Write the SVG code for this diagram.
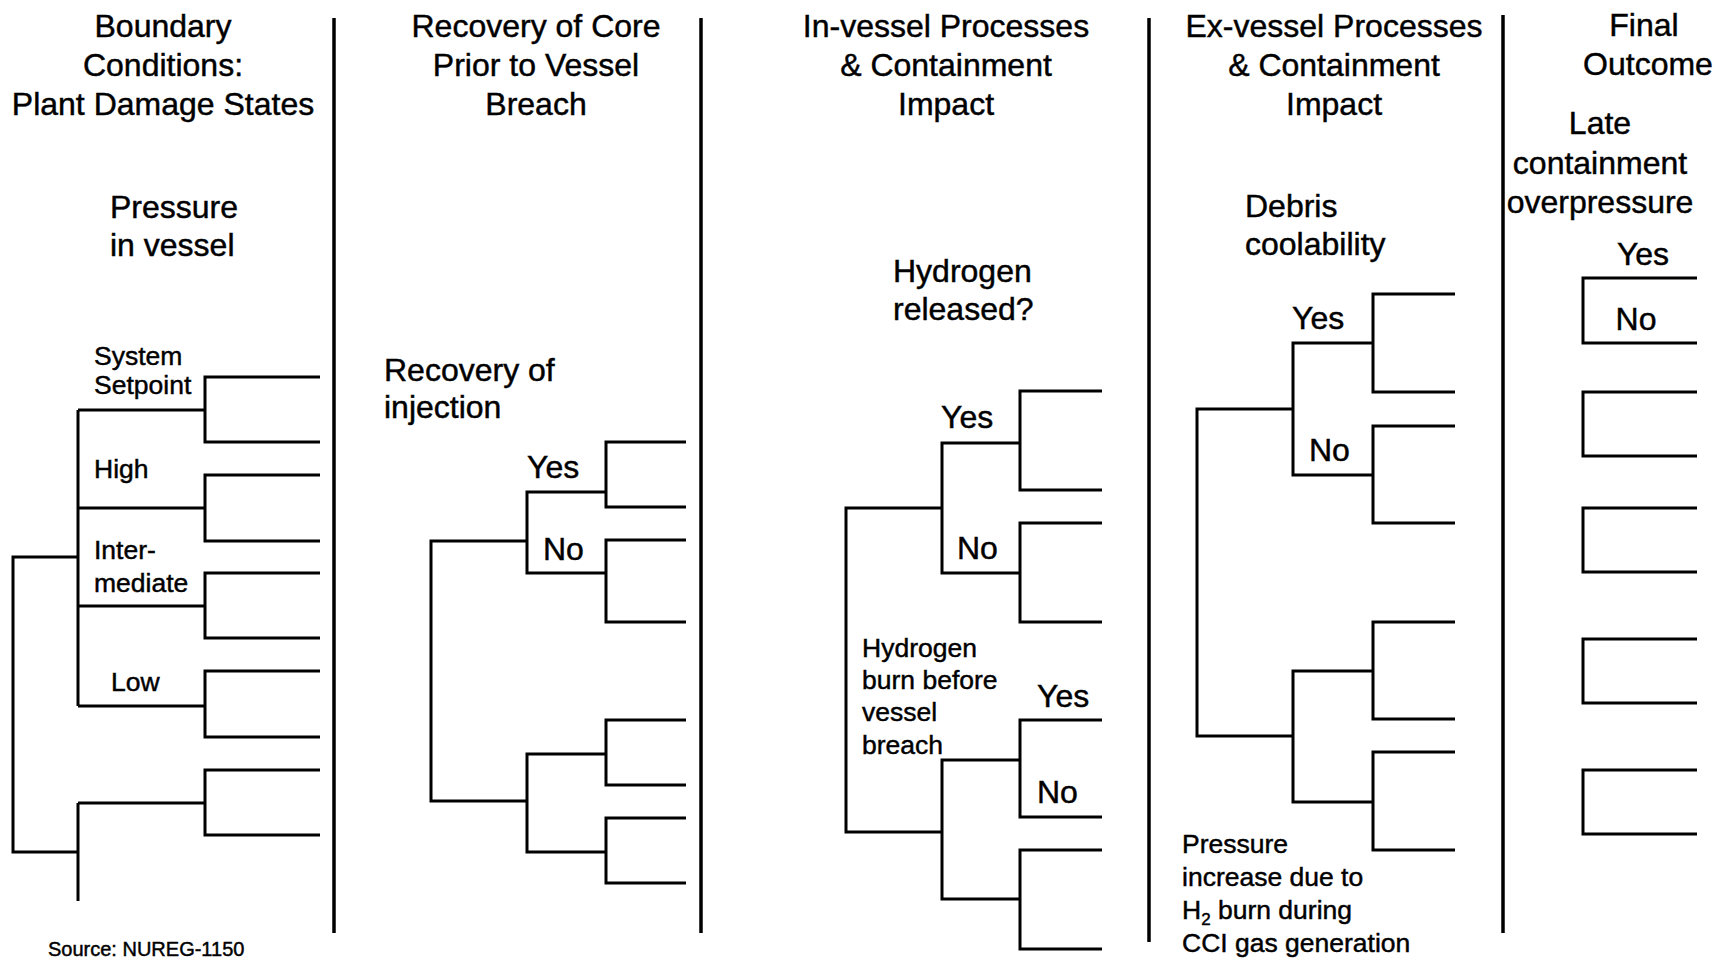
<svg xmlns="http://www.w3.org/2000/svg" width="1733" height="958" viewBox="0 0 1733 958">
<style>
text{font-family:"Liberation Sans",Arial,Helvetica,sans-serif;fill:#000;stroke:#000;stroke-width:0.45}
.h{font-size:32px;text-anchor:middle}
.l{font-size:32px}
.s{font-size:26.5px}
.src{font-size:20px}
.ln{fill:none;stroke:#000;stroke-width:3;stroke-linejoin:miter;stroke-linecap:butt}
.dv{fill:none;stroke:#000;stroke-width:3.5}
</style>
<rect width="1733" height="958" fill="#fff"/>

<g id="dividers">
<line class="dv" x1="334" y1="18" x2="334" y2="933"/>
<line class="dv" x1="701" y1="18" x2="701" y2="933"/>
<line class="dv" x1="1149" y1="18" x2="1149" y2="942"/>
<line class="dv" x1="1503" y1="15" x2="1503" y2="933"/>
</g>

<g id="headers">
<g id="h1"><text class="h" x="163" y="37">Boundary</text><text class="h" x="163" y="76">Conditions:</text><text class="h" x="163" y="115">Plant Damage States</text></g>
<g id="h2"><text class="h" x="536" y="37">Recovery of Core</text><text class="h" x="536" y="76">Prior to Vessel</text><text class="h" x="536" y="115">Breach</text></g>
<g id="h3"><text class="h" x="946" y="37">In-vessel Processes</text><text class="h" x="946" y="76">&amp; Containment</text><text class="h" x="946" y="115">Impact</text></g>
<g id="h4"><text class="h" x="1334" y="37">Ex-vessel Processes</text><text class="h" x="1334" y="76">&amp; Containment</text><text class="h" x="1334" y="115">Impact</text></g>
<g id="h5"><text class="h" x="1644" y="36">Final</text><text class="h" x="1648" y="75">Outcome</text></g>
</g>

<g id="connectors">
<!-- column 1 -->
<path class="ln" d="M78 557 H13 V852 H78"/>
<path class="ln" d="M78 410 V706 M78 410 H205 M78 508 H205 M78 606 H205 M78 706 H205"/>
<path class="ln" d="M320 377 H205 V442 H320"/>
<path class="ln" d="M320 475 H205 V541 H320"/>
<path class="ln" d="M320 573 H205 V638 H320"/>
<path class="ln" d="M320 671 H205 V737 H320"/>
<path class="ln" d="M78 803 V901 M78 803 H205"/>
<path class="ln" d="M320 770 H205 V835 H320"/>
<!-- column 2 -->
<path class="ln" d="M527 541 H431 V801 H527"/>
<path class="ln" d="M606 492 H527 V573 H606"/>
<path class="ln" d="M686 442 H606 V507 H686"/>
<path class="ln" d="M686 540 H606 V622 H686"/>
<path class="ln" d="M606 754 H527 V852 H606"/>
<path class="ln" d="M686 720 H606 V785 H686"/>
<path class="ln" d="M686 818 H606 V883 H686"/>
<!-- column 3 -->
<path class="ln" d="M942 508 H846 V832 H942"/>
<path class="ln" d="M1020 443 H942 V573 H1020"/>
<path class="ln" d="M1102 391 H1020 V490 H1102"/>
<path class="ln" d="M1102 523 H1020 V622 H1102"/>
<path class="ln" d="M1020 760 H942 V899 H1020"/>
<path class="ln" d="M1102 720 H1020 V817 H1102"/>
<path class="ln" d="M1102 850 H1020 V949 H1102"/>
<!-- column 4 -->
<path class="ln" d="M1293 409 H1197 V736 H1293"/>
<path class="ln" d="M1373 343 H1293 V475 H1373"/>
<path class="ln" d="M1455 294 H1373 V392 H1455"/>
<path class="ln" d="M1455 426 H1373 V523 H1455"/>
<path class="ln" d="M1373 671 H1293 V802 H1373"/>
<path class="ln" d="M1455 622 H1373 V719 H1455"/>
<path class="ln" d="M1455 752 H1373 V850 H1455"/>
<!-- column 5 -->
<path class="ln" d="M1697 278 H1583 V343 H1697"/>
<path class="ln" d="M1697 392 H1583 V456 H1697"/>
<path class="ln" d="M1697 508 H1583 V572 H1697"/>
<path class="ln" d="M1697 639 H1583 V703 H1697"/>
<path class="ln" d="M1697 770 H1583 V834 H1697"/>
</g>

<g id="col1-labels">
<g id="pressure"><text class="l" x="110" y="218">Pressure</text><text class="l" x="110" y="256">in vessel</text></g>
<g id="system"><text class="s" x="94" y="365">System</text><text class="s" x="94" y="394">Setpoint</text></g>
<g id="high"><text class="s" x="94" y="478">High</text></g>
<g id="inter"><text class="s" x="94" y="559">Inter-</text><text class="s" x="94" y="592">mediate</text></g>
<g id="low"><text class="s" x="111" y="691">Low</text></g>
</g>

<g id="col2-labels">
<g id="recovery"><text class="l" x="384" y="381">Recovery of</text><text class="l" x="384" y="418">injection</text></g>
<g id="c2-yes"><text class="l" x="527" y="478">Yes</text></g>
<g id="c2-no"><text class="l" x="543" y="560">No</text></g>
</g>

<g id="col3-labels">
<g id="h2rel"><text class="l" x="893" y="282">Hydrogen</text><text class="l" x="893" y="320">released?</text></g>
<g id="c3-yes1"><text class="l" x="941" y="428">Yes</text></g>
<g id="c3-no1"><text class="l" x="957" y="559">No</text></g>
<g id="h2burn"><text class="s" x="862" y="657">Hydrogen</text><text class="s" x="862" y="689">burn before</text><text class="s" x="862" y="721">vessel</text><text class="s" x="862" y="754">breach</text></g>
<g id="c3-yes2"><text class="l" x="1037" y="707">Yes</text></g>
<g id="c3-no2"><text class="l" x="1037" y="803">No</text></g>
</g>

<g id="col4-labels">
<g id="debris"><text class="l" x="1245" y="217">Debris</text><text class="l" x="1245" y="255">coolability</text></g>
<g id="c4-yes"><text class="l" x="1292" y="329">Yes</text></g>
<g id="c4-no"><text class="l" x="1309" y="461">No</text></g>
<g id="cci"><text class="s" x="1182" y="853">Pressure</text><text class="s" x="1182" y="886">increase due to</text><text class="s" x="1182" y="919">H<tspan font-size="17" dy="6">2</tspan><tspan dy="-6"> burn during</tspan></text><text class="s" x="1182" y="952">CCI gas generation</text></g>
</g>

<g id="col5-labels">
<g id="late"><text class="h" x="1600" y="134">Late</text><text class="h" x="1600" y="174">containment</text><text class="h" x="1600" y="213">overpressure</text></g>
<g id="c5-yes"><text class="h" x="1643" y="265">Yes</text></g>
<g id="c5-no"><text class="h" x="1636" y="330">No</text></g>
</g>

<g id="source"><text class="src" x="48" y="956">Source: NUREG-1150</text></g>
</svg>
